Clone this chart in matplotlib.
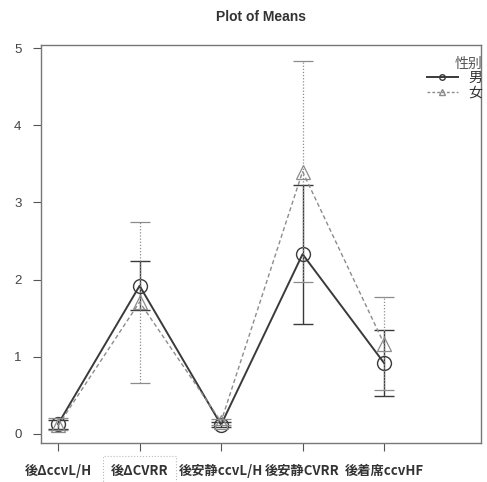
import numpy as np
import matplotlib
matplotlib.use('Agg')
import matplotlib.pyplot as plt
from matplotlib.lines import Line2D

plt.rcParams['font.family'] = ['Noto Sans CJK JP', 'DejaVu Sans']

variables = ['後ΔccvL/H', '後ΔCVRR', '後安静ccvL/H', '後安静CVRR', '後着席ccvHF']
groups = ['男', '女']

# means and error bar limits per group
male_mean = [0.13, 1.92, 0.12, 2.33, 0.92]
male_lo = [0.07, 1.60, 0.09, 1.43, 0.49]
male_hi = [0.18, 2.24, 0.15, 3.23, 1.35]

female_mean = [0.11, 1.71, 0.16, 3.40, 1.17]
female_lo = [0.05, 0.66, 0.12, 1.97, 0.57]
female_hi = [0.21, 2.75, 0.20, 4.83, 1.77]

x = np.arange(1, len(variables) + 1)

fig = plt.figure(figsize=(4.87, 4.82), dpi=100)
ax = fig.add_axes([0.0842, 0.0809, 0.9035, 0.8257])

c_m = '#3a3a3a'
c_f = '#8c8c8c'

# male
m_err = [np.array(male_mean) - np.array(male_lo), np.array(male_hi) - np.array(male_mean)]
ax.errorbar(x, male_mean, yerr=m_err, fmt='none', ecolor=c_m, elinewidth=1.0,
            capsize=7.5, capthick=1.0)
ax.plot(x, male_mean, color=c_m, lw=1.4, marker='o', markersize=10,
        markerfacecolor='none', markeredgecolor=c_m, markeredgewidth=1.0)

# female
f_err = [np.array(female_mean) - np.array(female_lo), np.array(female_hi) - np.array(female_mean)]
eb = ax.errorbar(x, female_mean, yerr=f_err, fmt='none', ecolor=c_f, elinewidth=0.9,
                 capsize=7.5, capthick=0.9)
eb[2][0].set_linestyle((0, (1, 1.5)))
ax.plot(x, female_mean, color=c_f, lw=1.0, ls=(0, (3, 2)), marker='^', markersize=10,
        markerfacecolor='none', markeredgecolor=c_f, markeredgewidth=0.9)

ax.set_xlim(0.79, 6.19)
ax.set_ylim(-0.117, 5.04)
ax.set_yticks([0, 1, 2, 3, 4, 5])
ax.set_xticks(x)
ax.set_xticklabels(variables, fontsize=9.5, fontweight='bold', color='#333333')
ax.tick_params(axis='y', labelsize=9.5, labelcolor='#444444', length=6, color='#555555', pad=8)
for lab in ax.get_yticklabels():
    lab.set_family('Liberation Sans')
ax.tick_params(axis='x', length=6, color='#555555', pad=9)
for s in ax.spines.values():
    s.set_color('#777777')
    s.set_linewidth(1.0)

ax.get_xticklabels()[1].set_bbox(dict(boxstyle='square,pad=0.6', facecolor='white',
                                      edgecolor='#bbbbbb', linestyle=':', linewidth=0.8))

ax.set_title('Plot of Means', fontsize=10, fontweight='bold', color='#333333', pad=17,
             family='Liberation Sans')

handles = [Line2D([0], [0], color=c_m, lw=1.4, marker='o', markersize=4,
                  markerfacecolor='none'),
           Line2D([0], [0], color=c_f, lw=1.0, ls=(0, (2, 1.5)), marker='^', markersize=5,
                  markerfacecolor='none')]
leg = ax.legend(handles, groups, title='性别', loc='upper right', bbox_to_anchor=(1.016, 0.985),
                frameon=False, fontsize=10, title_fontsize=10, handlelength=2.2,
                handletextpad=0.8, labelspacing=0.05, borderaxespad=0)
leg._legend_box.align = 'right'
for t in leg.get_texts():
    t.set_color('#333333')
leg.get_title().set_color('#555555')

fig.savefig('out.png', dpi=100)
